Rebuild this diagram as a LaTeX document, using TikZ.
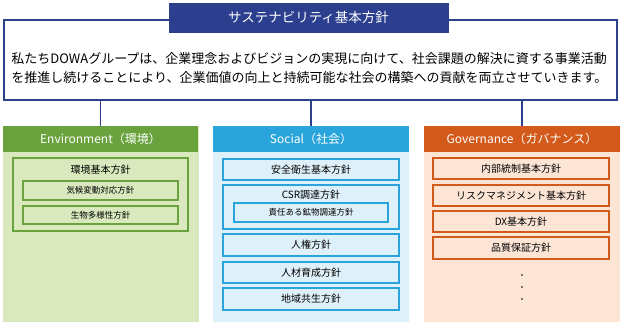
\documentclass[tikz,border=0pt]{standalone}
\usepackage{fontspec}
\setmainfont{Noto Sans CJK JP}
\definecolor{dowablue}{HTML}{2B3F8E}
\definecolor{envgreen}{HTML}{6AA23E}
\definecolor{envbg}{HTML}{D9E8BD}
\definecolor{socblue}{HTML}{29A5DC}
\definecolor{socbg}{HTML}{DEF0F9}
\definecolor{govorange}{HTML}{D35A1A}
\definecolor{govbg}{HTML}{FCE5D5}
\tikzset{
  policy frame/.style={
    draw=dowablue, line width=2.4pt, fill=white, inner sep=0pt,
    minimum width=613pt, minimum height=80pt
  },
  title bar/.style={
    draw=dowablue, fill=dowablue, text=white, inner sep=0pt,
    minimum width=279pt, minimum height=29pt,
    font=\fontsize{13.5pt}{16pt}\selectfont
  },
  pillar/.style={
    fill=#1, inner sep=0pt, minimum width=196pt, minimum height=196pt
  },
  pillar head/.style={
    fill=#1, text=white, inner sep=0pt, minimum width=196pt, minimum height=26pt,
    font=\fontsize{12pt}{14pt}\selectfont
  },
  policy box/.style={
    draw=#1, line width=1.6pt, inner sep=0pt, minimum width=176pt, minimum height=21pt,
    font=\fontsize{10pt}{12pt}\selectfont
  },
  sub policy box/.style={
    draw=#1, line width=1.4pt, inner sep=0pt, minimum width=155pt, minimum height=19pt,
    font=\fontsize{8.5pt}{10pt}\selectfont
  },
  link/.style={draw=dowablue, line width=1.5pt}
}

\begin{document}
\begin{tikzpicture}[x=1pt, y=-1pt, line width=0.9pt]
\useasboundingbox (0,0) rectangle (622,325);

% ---------------------------
% 基本方針
% ---------------------------
\node[policy frame] (frame) at (310.5,60) {};
\node[title bar] (title) at (308.5,17.5) {サステナビリティ基本方針};
\node[anchor=west, align=left, inner sep=0pt, font=\fontsize{13pt}{19pt}\selectfont] (mission) at (11,68.5)
  {私たちDOWAグループは、企業理念およびビジョンの実現に向けて、社会課題の解決に資する事業活動\\
   を推進し続けることにより、企業価値の向上と持続可能な社会の構築への貢献を両立させていきます。};

% ---------------------------
% Environment
% ---------------------------
\begin{scope}[shift={(100.5,0)}]
  \node[pillar=envbg] (envcol) at (0,224) {};
  \node[pillar head=envgreen, minimum width=195pt] (envhead) at (0,139) {Environment（環境）};
  \node[policy box=envgreen, minimum width=175pt, minimum height=73pt] (envbox) at (0,194.5) {};
  \node[font=\fontsize{10pt}{12pt}\selectfont, inner sep=0pt] (envtitle) at (0,170) {環境基本方針};
  \node[sub policy box=envgreen] (climate) at (0,190.5) {気候変動対応方針};
  \node[sub policy box=envgreen, minimum height=18pt] (biodiv) at (0,215) {生物多様性方針};
\end{scope}

% ---------------------------
% Social
% ---------------------------
\begin{scope}[shift={(311,0)}]
  \node[pillar=socbg] (soccol) at (0,224) {};
  \node[pillar head=socblue] (sochead) at (0,139) {Social（社会）};
  \node[policy box=socblue] (safety) at (0,169.5) {安全衛生基本方針};
  \node[policy box=socblue, minimum height=44pt] (csrbox) at (0,207) {};
  \node[font=\fontsize{10pt}{12pt}\selectfont, inner sep=0pt] (csrtitle) at (0,194.5) {CSR調達方針};
  \node[sub policy box=socblue, minimum width=154pt] (mineral) at (0,212.5) {責任ある鉱物調達方針};
  \node[policy box=socblue, minimum height=22pt] (rights) at (0,245) {人権方針};
  \node[policy box=socblue] (talent) at (0,272.5) {人材育成方針};
  \node[policy box=socblue, minimum height=22pt] (region) at (0,299) {地域共生方針};
\end{scope}

% ---------------------------
% Governance
% ---------------------------
\begin{scope}[shift={(522,0)}]
  \node[pillar=govbg] (govcol) at (0,224) {};
  \node[pillar head=govorange] (govhead) at (0,139) {Governance（ガバナンス）};
  \node[policy box=govorange] (control) at (-1,168.5) {内部統制基本方針};
  \node[policy box=govorange] (risk) at (-1,195.5) {リスクマネジメント基本方針};
  \node[policy box=govorange] (dx) at (-1,221.5) {DX基本方針};
  \node[policy box=govorange, minimum height=22pt] (quality) at (-1,248) {品質保証方針};
  \foreach \y in {275,287,299}
    \fill (0,\y) circle (0.9pt);
\end{scope}

% connectors
\foreach \h in {envhead,sochead,govhead}
  \draw[link] (frame.south -| \h.north) -- (\h.north);

\end{tikzpicture}
\end{document}
